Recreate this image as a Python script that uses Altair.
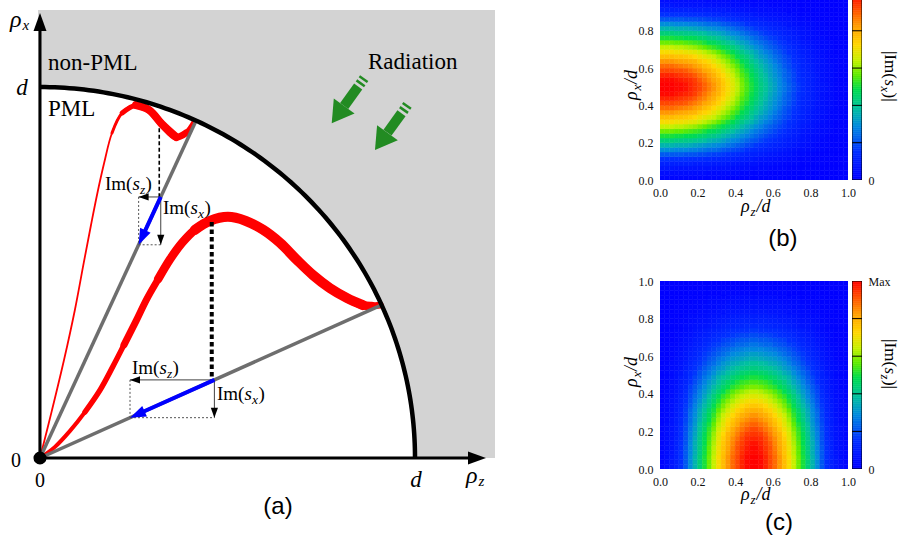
import altair as alt
import pandas as pd
import numpy as np

SERIF = "Liberation Serif"
SANS = "Liberation Sans"

# ---------------- panel (a): values in units of d (rho_z/d , rho_x/d) ----------------
small_wave_z = [0.000, 0.032, 0.064, 0.093, 0.117, 0.136, 0.152, 0.171, 0.192, 0.219, 0.256, 0.291, 0.325, 0.363, 0.389, 0.411]
small_wave_x = [0.000, 0.129, 0.264, 0.399, 0.528, 0.628, 0.709, 0.795, 0.876, 0.930, 0.951, 0.938, 0.900, 0.865, 0.876, 0.906]
# stroke stages (first point index, last point index, width in px)
small_wave_stages = [(0, 15, 1.8), (8, 15, 3.0), (9, 15, 5.0), (10, 14, 7.0), (10, 13, 8.0)]

big_wave_z = [0.000, 0.040, 0.080, 0.120, 0.160, 0.195, 0.224, 0.256, 0.285, 0.315, 0.347, 0.379, 0.413,
              0.453, 0.501, 0.549, 0.595, 0.640, 0.685, 0.728, 0.773, 0.819, 0.861, 0.885, 0.907]
big_wave_x = [0.000, 0.030, 0.073, 0.124, 0.183, 0.248, 0.305, 0.369, 0.429, 0.482, 0.536, 0.580, 0.615,
              0.639, 0.650, 0.639, 0.615, 0.580, 0.534, 0.493, 0.458, 0.431, 0.412, 0.410, 0.412]
big_wave_stages = [(0, 24, 4.0), (3, 24, 5.5), (6, 24, 7.0), (9, 23, 8.5), (12, 22, 10.0)]

ray_tip_z = [0.416, 0.910]
ray_tip_x = [0.909, 0.412]
proj_z = [0.322, 0.465]
proj_x = [0.7036, 0.2105]
foot_z = [0.263, 0.240]
foot_x = [0.5747, 0.1087]
drop_z = [0.318, 0.458]
drop_top = [0.889, 0.636]
blue_base_z = [0.2764, 0.2692]
blue_base_x = [0.6040, 0.1219]
blue_angle = [204.8, 245.9]

green_tip_z = [0.7779, 0.8933]
green_tip_x = [0.9022, 0.8302]
green_base_z = [0.8112, 0.9267]
green_base_x = [0.9488, 0.8768]
green_end_z = [0.8485, 0.9640]
green_end_x = [1.0013, 0.9293]
stripe_z1 = [0.8440, 0.8517, 0.9595, 0.9672]
stripe_x1 = [1.0178, 1.0288, 0.9458, 0.9568]
stripe_z2 = [0.8659, 0.8736, 0.9814, 0.9891]
stripe_x2 = [1.0022, 1.0132, 0.9302, 0.9412]
green_angle = [215.8, 215.8]

pml_box = [-0.0053, 1.2133, 0.0, 1.2075]
axis_tip_z = 1.1893
axis_tip_x = 1.1995

# ---------------- panels (b),(c): |Im(s_x)| read on a 40x40 grid ----------------
# rows: rho_x/d = 0.0125 ... 0.9875 (bottom to top); columns: rho_z/d = 0.0125 ... 0.9875 ; 1 = Max
IM_SX = [
    [0.02,0.02,0.02,0.02,0.02,0.02,0.02,0.02,0.02,0.02, 0.02,0.02,0.02,0.02,0.01,0.01,0.01,0.01,0.01,0.01, 0.01,0.01,0.01,0.01,0.01,0.01,0.00,0.00,0.00,0.00, 0.00,0.00,0.00,0.00,0.00,0.00,0.00,0.00,0.00,0.00],
    [0.04,0.04,0.04,0.04,0.04,0.04,0.04,0.04,0.04,0.04, 0.03,0.03,0.03,0.03,0.03,0.03,0.03,0.02,0.02,0.02, 0.02,0.02,0.02,0.01,0.01,0.01,0.01,0.01,0.01,0.01, 0.01,0.00,0.00,0.00,0.00,0.00,0.00,0.00,0.00,0.00],
    [0.07,0.07,0.07,0.06,0.06,0.06,0.06,0.06,0.06,0.06, 0.06,0.05,0.05,0.05,0.05,0.04,0.04,0.04,0.04,0.03, 0.03,0.03,0.03,0.02,0.02,0.02,0.02,0.01,0.01,0.01, 0.01,0.01,0.01,0.00,0.00,0.00,0.00,0.00,0.00,0.00],
    [0.10,0.10,0.10,0.10,0.10,0.10,0.10,0.09,0.09,0.09, 0.09,0.08,0.08,0.08,0.07,0.07,0.06,0.06,0.05,0.05, 0.05,0.04,0.04,0.04,0.03,0.03,0.02,0.02,0.02,0.02, 0.01,0.01,0.01,0.01,0.01,0.00,0.00,0.00,0.00,0.00],
    [0.15,0.15,0.15,0.15,0.15,0.15,0.14,0.14,0.14,0.13, 0.13,0.12,0.12,0.11,0.11,0.10,0.09,0.09,0.08,0.08, 0.07,0.06,0.06,0.05,0.05,0.04,0.04,0.03,0.03,0.02, 0.02,0.02,0.01,0.01,0.01,0.01,0.00,0.00,0.00,0.00],
    [0.21,0.21,0.21,0.21,0.21,0.20,0.20,0.20,0.19,0.19, 0.18,0.17,0.17,0.16,0.15,0.14,0.13,0.12,0.11,0.10, 0.10,0.09,0.08,0.07,0.07,0.06,0.05,0.05,0.04,0.03, 0.03,0.02,0.02,0.01,0.01,0.01,0.01,0.00,0.00,0.00],
    [0.29,0.29,0.29,0.28,0.28,0.28,0.27,0.27,0.26,0.25, 0.24,0.24,0.23,0.21,0.20,0.19,0.18,0.17,0.15,0.14, 0.13,0.12,0.11,0.10,0.09,0.08,0.07,0.06,0.05,0.04, 0.04,0.03,0.03,0.02,0.02,0.01,0.01,0.01,0.00,0.00],
    [0.36,0.36,0.36,0.35,0.35,0.35,0.34,0.33,0.32,0.31, 0.30,0.29,0.28,0.27,0.25,0.24,0.22,0.21,0.19,0.18, 0.16,0.15,0.14,0.12,0.11,0.10,0.09,0.08,0.07,0.06, 0.05,0.04,0.03,0.02,0.02,0.02,0.01,0.01,0.00,0.00],
    [0.43,0.43,0.43,0.42,0.42,0.41,0.41,0.40,0.39,0.38, 0.36,0.35,0.34,0.32,0.30,0.28,0.27,0.25,0.23,0.21, 0.20,0.18,0.16,0.15,0.13,0.12,0.10,0.09,0.08,0.07, 0.06,0.05,0.04,0.03,0.02,0.02,0.01,0.01,0.01,0.00],
    [0.50,0.50,0.50,0.49,0.49,0.48,0.48,0.47,0.45,0.44, 0.42,0.41,0.39,0.37,0.35,0.33,0.31,0.29,0.27,0.25, 0.23,0.21,0.19,0.17,0.16,0.14,0.12,0.11,0.09,0.08, 0.06,0.05,0.04,0.03,0.03,0.02,0.01,0.01,0.01,0.00],
    [0.57,0.57,0.57,0.56,0.56,0.55,0.54,0.53,0.52,0.50, 0.48,0.47,0.45,0.42,0.40,0.38,0.35,0.33,0.31,0.28, 0.26,0.24,0.22,0.20,0.18,0.16,0.14,0.12,0.10,0.09, 0.07,0.06,0.05,0.04,0.03,0.03,0.02,0.01,0.01,0.00],
    [0.64,0.64,0.64,0.63,0.63,0.62,0.61,0.60,0.58,0.56, 0.54,0.52,0.50,0.48,0.45,0.43,0.40,0.37,0.34,0.32, 0.29,0.27,0.24,0.22,0.20,0.18,0.16,0.14,0.12,0.10, 0.08,0.07,0.06,0.04,0.03,0.03,0.02,0.01,0.01,0.00],
    [0.71,0.71,0.71,0.70,0.70,0.69,0.68,0.67,0.65,0.63, 0.61,0.59,0.56,0.53,0.50,0.48,0.44,0.41,0.38,0.36, 0.33,0.30,0.27,0.25,0.22,0.20,0.17,0.15,0.13,0.11, 0.09,0.08,0.06,0.05,0.04,0.03,0.02,0.01,0.01,0.00],
    [0.77,0.77,0.77,0.76,0.76,0.75,0.74,0.72,0.70,0.68, 0.66,0.64,0.61,0.58,0.55,0.52,0.48,0.45,0.42,0.39, 0.35,0.32,0.30,0.27,0.24,0.22,0.19,0.17,0.14,0.12, 0.10,0.08,0.07,0.05,0.04,0.03,0.02,0.02,0.01,0.00],
    [0.83,0.83,0.83,0.82,0.81,0.80,0.79,0.78,0.75,0.73, 0.71,0.68,0.65,0.62,0.59,0.55,0.52,0.48,0.45,0.41, 0.38,0.35,0.32,0.29,0.26,0.23,0.20,0.18,0.15,0.13, 0.11,0.09,0.07,0.06,0.05,0.04,0.02,0.02,0.01,0.00],
    [0.88,0.88,0.88,0.87,0.86,0.85,0.84,0.82,0.80,0.77, 0.75,0.72,0.69,0.66,0.62,0.59,0.55,0.51,0.47,0.44, 0.40,0.37,0.34,0.31,0.28,0.25,0.21,0.19,0.16,0.14, 0.11,0.10,0.08,0.06,0.05,0.04,0.03,0.02,0.01,0.00],
    [0.92,0.92,0.92,0.91,0.91,0.90,0.88,0.86,0.84,0.81, 0.79,0.76,0.73,0.69,0.65,0.62,0.58,0.53,0.50,0.46, 0.42,0.39,0.35,0.32,0.29,0.26,0.23,0.20,0.17,0.14, 0.12,0.10,0.08,0.06,0.05,0.04,0.03,0.02,0.01,0.00],
    [0.96,0.96,0.96,0.95,0.94,0.93,0.92,0.90,0.87,0.85, 0.82,0.79,0.75,0.72,0.68,0.64,0.60,0.55,0.52,0.48, 0.44,0.40,0.37,0.33,0.30,0.27,0.23,0.21,0.18,0.15, 0.12,0.11,0.09,0.07,0.05,0.04,0.03,0.02,0.01,0.00],
    [0.99,0.99,0.99,0.98,0.97,0.96,0.95,0.93,0.90,0.87, 0.84,0.81,0.78,0.74,0.70,0.66,0.62,0.57,0.53,0.49, 0.45,0.41,0.38,0.34,0.31,0.28,0.24,0.21,0.18,0.15, 0.13,0.11,0.09,0.07,0.05,0.04,0.03,0.02,0.01,0.00],
    [1.00,1.00,1.00,0.99,0.99,0.98,0.96,0.94,0.92,0.89, 0.86,0.83,0.79,0.75,0.71,0.67,0.63,0.58,0.54,0.50, 0.46,0.42,0.39,0.35,0.32,0.28,0.25,0.22,0.19,0.16, 0.13,0.11,0.09,0.07,0.06,0.05,0.03,0.02,0.01,0.01],
    [1.00,1.00,1.00,0.99,0.99,0.98,0.96,0.94,0.92,0.89, 0.86,0.83,0.79,0.75,0.71,0.67,0.63,0.58,0.54,0.50, 0.46,0.42,0.39,0.35,0.32,0.28,0.25,0.22,0.19,0.16, 0.13,0.11,0.09,0.07,0.06,0.05,0.03,0.02,0.01,0.01],
    [0.99,0.99,0.99,0.98,0.97,0.96,0.95,0.93,0.90,0.87, 0.84,0.81,0.78,0.74,0.70,0.66,0.62,0.57,0.53,0.49, 0.45,0.41,0.38,0.34,0.31,0.28,0.24,0.21,0.18,0.15, 0.13,0.11,0.09,0.07,0.05,0.04,0.03,0.02,0.01,0.00],
    [0.96,0.96,0.96,0.95,0.94,0.93,0.92,0.90,0.87,0.85, 0.82,0.79,0.75,0.72,0.68,0.64,0.60,0.55,0.52,0.48, 0.44,0.40,0.37,0.33,0.30,0.27,0.23,0.21,0.18,0.15, 0.12,0.11,0.09,0.07,0.05,0.04,0.03,0.02,0.01,0.00],
    [0.92,0.92,0.92,0.91,0.91,0.90,0.88,0.86,0.84,0.81, 0.79,0.76,0.73,0.69,0.65,0.62,0.58,0.53,0.50,0.46, 0.42,0.39,0.35,0.32,0.29,0.26,0.23,0.20,0.17,0.14, 0.12,0.10,0.08,0.06,0.05,0.04,0.03,0.02,0.01,0.00],
    [0.88,0.88,0.88,0.87,0.86,0.85,0.84,0.82,0.80,0.77, 0.75,0.72,0.69,0.66,0.62,0.59,0.55,0.51,0.47,0.44, 0.40,0.37,0.34,0.31,0.28,0.25,0.21,0.19,0.16,0.14, 0.11,0.10,0.08,0.06,0.05,0.04,0.03,0.02,0.01,0.00],
    [0.83,0.83,0.83,0.82,0.81,0.80,0.79,0.78,0.75,0.73, 0.71,0.68,0.65,0.62,0.59,0.55,0.52,0.48,0.45,0.41, 0.38,0.35,0.32,0.29,0.26,0.23,0.20,0.18,0.15,0.13, 0.11,0.09,0.07,0.06,0.05,0.04,0.02,0.02,0.01,0.00],
    [0.77,0.77,0.77,0.76,0.76,0.75,0.74,0.72,0.70,0.68, 0.66,0.64,0.61,0.58,0.55,0.52,0.48,0.45,0.42,0.39, 0.35,0.32,0.30,0.27,0.24,0.22,0.19,0.17,0.14,0.12, 0.10,0.08,0.07,0.05,0.04,0.03,0.02,0.02,0.01,0.00],
    [0.71,0.71,0.71,0.70,0.70,0.69,0.68,0.67,0.65,0.63, 0.61,0.59,0.56,0.53,0.50,0.48,0.44,0.41,0.38,0.36, 0.33,0.30,0.27,0.25,0.22,0.20,0.17,0.15,0.13,0.11, 0.09,0.08,0.06,0.05,0.04,0.03,0.02,0.01,0.01,0.00],
    [0.64,0.64,0.64,0.63,0.63,0.62,0.61,0.60,0.58,0.56, 0.54,0.52,0.50,0.48,0.45,0.43,0.40,0.37,0.34,0.32, 0.29,0.27,0.24,0.22,0.20,0.18,0.16,0.14,0.12,0.10, 0.08,0.07,0.06,0.04,0.03,0.03,0.02,0.01,0.01,0.00],
    [0.57,0.57,0.57,0.56,0.56,0.55,0.54,0.53,0.52,0.50, 0.48,0.47,0.45,0.42,0.40,0.38,0.35,0.33,0.31,0.28, 0.26,0.24,0.22,0.20,0.18,0.16,0.14,0.12,0.10,0.09, 0.07,0.06,0.05,0.04,0.03,0.03,0.02,0.01,0.01,0.00],
    [0.50,0.50,0.50,0.49,0.49,0.48,0.48,0.47,0.45,0.44, 0.42,0.41,0.39,0.37,0.35,0.33,0.31,0.29,0.27,0.25, 0.23,0.21,0.19,0.17,0.16,0.14,0.12,0.11,0.09,0.08, 0.06,0.05,0.04,0.03,0.03,0.02,0.01,0.01,0.01,0.00],
    [0.43,0.43,0.43,0.42,0.42,0.41,0.41,0.40,0.39,0.38, 0.36,0.35,0.34,0.32,0.30,0.28,0.27,0.25,0.23,0.21, 0.20,0.18,0.16,0.15,0.13,0.12,0.10,0.09,0.08,0.07, 0.06,0.05,0.04,0.03,0.02,0.02,0.01,0.01,0.01,0.00],
    [0.36,0.36,0.36,0.35,0.35,0.35,0.34,0.33,0.32,0.31, 0.30,0.29,0.28,0.27,0.25,0.24,0.22,0.21,0.19,0.18, 0.16,0.15,0.14,0.12,0.11,0.10,0.09,0.08,0.07,0.06, 0.05,0.04,0.03,0.02,0.02,0.02,0.01,0.01,0.00,0.00],
    [0.29,0.29,0.29,0.28,0.28,0.28,0.27,0.27,0.26,0.25, 0.24,0.24,0.23,0.21,0.20,0.19,0.18,0.17,0.15,0.14, 0.13,0.12,0.11,0.10,0.09,0.08,0.07,0.06,0.05,0.04, 0.04,0.03,0.03,0.02,0.02,0.01,0.01,0.01,0.00,0.00],
    [0.21,0.21,0.21,0.21,0.21,0.20,0.20,0.20,0.19,0.19, 0.18,0.17,0.17,0.16,0.15,0.14,0.13,0.12,0.11,0.10, 0.10,0.09,0.08,0.07,0.07,0.06,0.05,0.05,0.04,0.03, 0.03,0.02,0.02,0.01,0.01,0.01,0.01,0.00,0.00,0.00],
    [0.15,0.15,0.15,0.15,0.15,0.15,0.14,0.14,0.14,0.13, 0.13,0.12,0.12,0.11,0.11,0.10,0.09,0.09,0.08,0.08, 0.07,0.06,0.06,0.05,0.05,0.04,0.04,0.03,0.03,0.02, 0.02,0.02,0.01,0.01,0.01,0.01,0.00,0.00,0.00,0.00],
    [0.10,0.10,0.10,0.10,0.10,0.10,0.10,0.09,0.09,0.09, 0.09,0.08,0.08,0.08,0.07,0.07,0.06,0.06,0.05,0.05, 0.05,0.04,0.04,0.04,0.03,0.03,0.02,0.02,0.02,0.02, 0.01,0.01,0.01,0.01,0.01,0.00,0.00,0.00,0.00,0.00],
    [0.07,0.07,0.07,0.06,0.06,0.06,0.06,0.06,0.06,0.06, 0.06,0.05,0.05,0.05,0.05,0.04,0.04,0.04,0.04,0.03, 0.03,0.03,0.03,0.02,0.02,0.02,0.02,0.01,0.01,0.01, 0.01,0.01,0.01,0.00,0.00,0.00,0.00,0.00,0.00,0.00],
    [0.04,0.04,0.04,0.04,0.04,0.04,0.04,0.04,0.04,0.04, 0.03,0.03,0.03,0.03,0.03,0.03,0.03,0.02,0.02,0.02, 0.02,0.02,0.02,0.01,0.01,0.01,0.01,0.01,0.01,0.01, 0.01,0.00,0.00,0.00,0.00,0.00,0.00,0.00,0.00,0.00],
    [0.02,0.02,0.02,0.02,0.02,0.02,0.02,0.02,0.02,0.02, 0.02,0.02,0.02,0.02,0.01,0.01,0.01,0.01,0.01,0.01, 0.01,0.01,0.01,0.01,0.01,0.01,0.00,0.00,0.00,0.00, 0.00,0.00,0.00,0.00,0.00,0.00,0.00,0.00,0.00,0.00],
]
# |Im(s_z)| in (c) reads as the same field with rho_z and rho_x exchanged
IM_SZ = [list(col) for col in zip(*IM_SX)]
CELL = 0.025

CMAP_STOPS = [0.0, 0.15, 0.28, 0.38, 0.48, 0.56, 0.64, 0.72, 0.82, 0.92, 1.0]
CMAP_COLORS = ["#0000ff", "#0030ff", "#0088e0", "#00c0a0", "#00dc50", "#60ec00",
               "#c8f000", "#ffd800", "#ffa000", "#ff4800", "#ff0000"]
CSCALE = alt.Scale(domain=CMAP_STOPS, range=CMAP_COLORS, interpolate="rgb", clamp=True)
cbar_levels = [round(0.01 * i, 2) for i in range(100)]

HEAD = "M0,0L0.72,2L-0.72,2Z"
GHEAD = "M0,0L1.2,2L-1.2,2Z"

# ---------------- helpers ----------------
def text_parts(xf, yf, xv, yv, parts, angle=0, align="left", font=SERIF):
    out = []
    for (s, dx, dy, size, style) in parts:
        df = pd.DataFrame({"tx": [xv], "ty": [yv], "t": [s]})
        out.append(
            alt.Chart(df).mark_text(align=align, baseline="alphabetic", dx=dx, dy=dy, fontSize=size,
                                    font=font, fontStyle=style, angle=angle, color="black")
            .encode(x=xf("tx"), y=yf("ty"), text="t:N")
        )
    return out

SA_X = alt.Scale(domain=[-40 / 375, 520 / 375], nice=False, zero=False)
SA_Y = alt.Scale(domain=[(458 - 540) / 371, 458 / 371], nice=False, zero=False)
XA = lambda f: alt.X(f, type="quantitative", scale=SA_X, axis=None)
YA = lambda f: alt.Y(f, type="quantitative", scale=SA_Y, axis=None)

def seg(u, v, u2, v2, **mk):
    df = pd.DataFrame({"u": u, "v": v, "u2": u2, "v2": v2})
    return alt.Chart(df).mark_rule(**mk).encode(x=XA("u"), y=YA("v"), x2="u2:Q", y2="v2:Q")

def heads(u, v, a, path, size, color):
    df = pd.DataFrame({"u": u, "v": v, "a": a})
    return alt.Chart(df).mark_point(shape=path, filled=True, size=size, color=color, opacity=1, strokeWidth=0).encode(
        x=XA("u"), y=YA("v"), angle=alt.Angle("a:Q", scale=None))

def wave_layers(zs, xs, stages):
    df = pd.DataFrame({"i": list(range(len(zs))), "u": zs, "v": xs})
    out = []
    for (a, b, w) in stages:
        out.append(
            alt.Chart(df).transform_filter(f"datum.i >= {a} && datum.i <= {b}")
            .mark_line(color="#ff0000", strokeWidth=w, strokeCap="round", strokeJoin="round", interpolate="catmull-rom")
            .encode(x=XA("u"), y=YA("v"), order="i:Q")
        )
    return out

# ---------------- panel (a) ----------------
layers_a = []
layers_a.append(alt.Chart(pd.DataFrame({"u": [pml_box[0]], "u2": [pml_box[1]], "v": [pml_box[2]], "v2": [pml_box[3]]}))
                .mark_rect(color="#d3d3d3").encode(x=XA("u"), x2="u2:Q", y=YA("v"), y2="v2:Q"))
theta = np.linspace(0, np.pi / 2, 121)
arc = pd.DataFrame({"u": np.cos(theta), "v": np.sin(theta), "zero": 0.0, "k": np.arange(121)})
layers_a.append(alt.Chart(arc).mark_area(color="white").encode(x=XA("u"), y=YA("v"), y2="zero:Q"))

# green radiation arrows
layers_a.append(seg(green_base_z, green_base_x, green_end_z, green_end_x, color="#228B22", strokeWidth=10, strokeCap="butt"))
layers_a.append(seg(stripe_z1, stripe_x1, stripe_z2, stripe_x2, color="#228B22", strokeWidth=2.5, strokeCap="butt"))
layers_a.append(heads(green_tip_z, green_tip_x, green_angle, GHEAD, 454, "#228B22"))

# red waves
layers_a += wave_layers(small_wave_z, small_wave_x, small_wave_stages)
layers_a += wave_layers(big_wave_z, big_wave_x, big_wave_stages)

# rays
layers_a.append(seg([0, 0], [0, 0], ray_tip_z, ray_tip_x, color="#6e6e6e", strokeWidth=3.5))

# dashed drops
layers_a.append(seg([drop_z[0]], [drop_top[0]], [drop_z[0]], [proj_x[0]], color="black", strokeWidth=1.6, strokeDash=[4, 2.5]))
layers_a.append(seg([drop_z[1]], [drop_top[1]], [drop_z[1]], [proj_x[1]], color="black", strokeWidth=4, strokeDash=[4.5, 3]))

# dotted rectangle sides
layers_a.append(seg(foot_z, proj_x, foot_z, foot_x, color="#555555", strokeWidth=1, strokeDash=[2, 2]))
layers_a.append(seg(foot_z, foot_x, proj_z, foot_x, color="#555555", strokeWidth=1, strokeDash=[2, 2]))

# Im(s_z), Im(s_x) thin arrows
layers_a.append(seg(proj_z, proj_x, foot_z, proj_x, color="#404040", strokeWidth=1))
layers_a.append(seg(proj_z, proj_x, proj_z, foot_x, color="#404040", strokeWidth=1))
layers_a.append(heads(foot_z, proj_x, [270, 270], HEAD, 100, "black"))
layers_a.append(heads(proj_z, foot_x, [180, 180], HEAD, 100, "black"))

# blue arrows
layers_a.append(seg(proj_z, proj_x, blue_base_z, blue_base_x, color="#0000ff", strokeWidth=4, strokeCap="butt"))
layers_a.append(heads(foot_z, foot_x, blue_angle, HEAD, 256, "#0000ff"))

# boundary arc
layers_a.append(alt.Chart(arc).mark_line(color="black", strokeWidth=4.5).encode(x=XA("u"), y=YA("v"), order="k:Q"))

# axes
layers_a.append(seg([0, 0], [0, 0], [0, 1.16], [1.17, 0], color="black", strokeWidth=3))
layers_a.append(heads([0, axis_tip_z], [axis_tip_x, 0], [0, 90], HEAD, 324, "black"))
layers_a.append(alt.Chart(pd.DataFrame({"u": [0.0], "v": [0.0]})).mark_point(
    filled=True, size=170, color="black", opacity=1).encode(x=XA("u"), y=YA("v")))

# texts
N, I = "normal", "italic"
layers_a += text_parts(XA, YA, 0.0213, 1.0458, [("non-PML", 0, 0, 23, N)])
layers_a += text_parts(XA, YA, 0.0213, 0.9218, [("PML", 0, 0, 23, N)])
layers_a += text_parts(XA, YA, 0.8747, 1.0485, [("Radiation", 0, 0, 23, N)])
layers_a += text_parts(XA, YA, -0.048, 0.978, [("d", 0, 0, 23, I)], align="center")
layers_a += text_parts(XA, YA, 1.0027, -0.078, [("d", 0, 0, 23, I)], align="center")
layers_a += text_parts(XA, YA, -0.064, -0.0243, [("0", 0, 0, 20, N)], align="center")
layers_a += text_parts(XA, YA, 0.0, -0.0782, [("0", 0, 0, 20, N)], align="center")
layers_a += text_parts(XA, YA, -0.08, 1.1617, [("ρ", 0, 0, 24, I), ("x", 12.5, 3, 15, I)])
layers_a += text_parts(XA, YA, 1.136, -0.0674, [("ρ", 0, 0, 24, I), ("z", 12.5, 3, 15, I)])
layers_a += text_parts(XA, YA, 0.6347, -0.151, [("(a)", 0, 0, 24, N)], align="center", font=SANS)

IM_Z = [("Im(", 0, 0, 19, N), ("s", 27.5, 0, 19, I), ("z", 35, 4, 13.5, I), (")", 40.5, 0, 19, N)]
IM_X = [("Im(", 0, 0, 19, N), ("s", 27.5, 0, 19, I), ("x", 35, 4, 13.5, I), (")", 41.5, 0, 19, N)]
layers_a += text_parts(XA, YA, 0.1733, 0.7224, IM_Z)
layers_a += text_parts(XA, YA, 0.328, 0.6577, IM_X)
layers_a += text_parts(XA, YA, 0.2453, 0.2264, IM_Z)
layers_a += text_parts(XA, YA, 0.472, 0.1563, IM_X)

panel_a = alt.layer(*layers_a).properties(width=560, height=540)

# ---------------- heatmaps ----------------
def cells_from(grid):
    rows = []
    for i, row in enumerate(grid):
        for j, val in enumerate(row):
            rows.append({"z0": j * CELL, "z1": (j + 1) * CELL, "x0": i * CELL, "x1": (i + 1) * CELL, "val": val})
    return pd.DataFrame(rows)

RHO_Z_D = [("ρ", 0, 0, 18, I), ("z", 9.5, 4, 13, I), ("/d", 15.5, 0, 18, I)]
RHO_X_D = [("ρ", 0, 0, 18, I), ("x", 9.5, 4, 13, I), ("/d", 16, 0, 18, I)]

def heat_panel(grid, ymax, h, yticks, xt, yt, lab, lab_pos):
    xs = alt.Scale(domain=[0, 1], nice=False, zero=False)
    ys = alt.Scale(domain=[0, ymax], nice=False, zero=False)
    common = dict(format=".1f", labelFont=SERIF, labelFontSize=12, labelColor="#111111", ticks=False, tickSize=0,
                  domain=False, grid=False, labelFlush=False, title=None)
    axx = alt.Axis(values=[0, 0.2, 0.4, 0.6, 0.8, 1.0], labelPadding=7, **common)
    axy = alt.Axis(values=yticks, labelPadding=7, **common)
    XF = lambda f: alt.X(f, type="quantitative", scale=xs, axis=axx)
    YF = lambda f: alt.Y(f, type="quantitative", scale=ys, axis=axy)
    rects = alt.Chart(cells_from(grid)).mark_rect(clip=True, strokeWidth=0.5).encode(
        x=XF("z0"), x2="z1:Q", y=YF("x0"), y2="x1:Q",
        color=alt.Color("val:Q", scale=CSCALE, legend=None),
        stroke=alt.Stroke("val:Q", scale=CSCALE, legend=None))
    layers = [rects]
    layers += text_parts(XF, YF, xt[0], xt[1], RHO_Z_D)
    layers += text_parts(XF, YF, yt[0], yt[1], RHO_X_D, angle=270)
    layers += text_parts(XF, YF, lab_pos[0], lab_pos[1], [(lab, 0, 0, 24, N)], align="center", font=SANS)
    return alt.layer(*layers).properties(width=188, height=h)

def cbar_panel(ymax, h, show_max, sub, ystart):
    ys = alt.Scale(domain=[0, ymax], nice=False, zero=False)
    ax = alt.Axis(orient="right", values=[0, 1] if show_max else [0],
                  labelExpr="datum.value > 0.5 ? 'Max' : '0'", ticks=False, tickSize=0, domain=False, grid=False,
                  labelFont=SERIF, labelFontSize=12, labelColor="#111111", labelPadding=6, labelFlush=False, title=None)
    YF = lambda f: alt.Y(f, type="quantitative", scale=ys, axis=ax)
    XV = lambda f: alt.value(33)
    df = pd.DataFrame({"lv": cbar_levels, "lv2": [round(v + 0.01, 2) for v in cbar_levels]})
    bars = alt.Chart(df).mark_rect(clip=True, strokeWidth=0.6).encode(
        x=alt.value(0), x2=alt.value(10), y=YF("lv"), y2="lv2:Q",
        color=alt.Color("lv:Q", scale=CSCALE, legend=None),
        stroke=alt.Stroke("lv:Q", scale=CSCALE, legend=None))
    frame = alt.Chart(pd.DataFrame({"a": [0.0], "b": [1.0]})).mark_rect(
        clip=True, fillOpacity=0, stroke="black", strokeWidth=1).encode(
        x=alt.value(0), x2=alt.value(10), y=YF("a"), y2="b:Q")
    ticks = alt.Chart(pd.DataFrame({"t": [0.2, 0.4, 0.6, 0.8]})).mark_rule(color="black", strokeWidth=1).encode(
        x=alt.value(0), x2=alt.value(10), y=YF("t"))
    sub_w = 5.8 if sub == "x" else 5.0
    parts = [("|Im(", 0, 0, 17, N), ("s", 28.5, 0, 17, I), (sub, 35.5, 4, 12.5, I), (")|", 35.8 + sub_w, 0, 17, N)]
    layers = [bars, frame, ticks] + text_parts(XV, YF, 0, ystart, parts, angle=90)
    return alt.layer(*layers).properties(width=10, height=h)

heat_b = heat_panel(IM_SX, 0.965, 180, [0, 0.2, 0.4, 0.6, 0.8],
                    (0.431, -0.172), (-0.1223, 0.429), "(b)", (0.654, -0.354))
cbar_b = cbar_panel(0.965, 180, False, "x", 0.692)
heat_c = heat_panel(IM_SZ, 1.0, 188, [0, 0.2, 0.4, 0.6, 0.8, 1.0],
                    (0.431, -0.166), (-0.1223, 0.436), "(c)", (0.633, -0.324))
cbar_c = cbar_panel(1.0, 188, True, "z", 0.691)

hb = alt.hconcat(heat_b, cbar_b, spacing=4, bounds="flush")
hc = alt.hconcat(heat_c, cbar_c, spacing=4, bounds="flush")
right = alt.vconcat(hb, hc, spacing=23)

chart = alt.hconcat(panel_a, right, spacing=63).properties(padding=0, background="white").configure_view(strokeWidth=0)

chart.save("out.html", embed_options={"renderer": "svg", "actions": False})
